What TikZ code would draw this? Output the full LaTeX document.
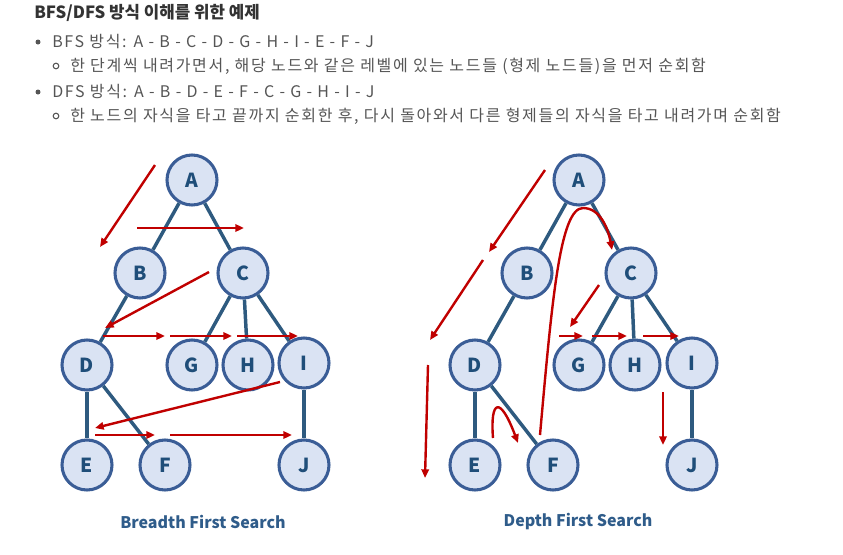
\documentclass[tikz,border=0pt]{standalone}
\usepackage{fontspec}
\setmainfont{Noto Sans CJK KR}
\newfontfamily\bodyfont[LetterSpace=10.5]{Noto Sans CJK KR}
\usetikzlibrary{arrows.meta}

\definecolor{nodefill}{HTML}{DAE3F3}
\definecolor{nodeline}{HTML}{3A5D96}
\definecolor{nodetext}{HTML}{1F4E79}
\definecolor{edgeblue}{HTML}{2E5A7F}
\definecolor{travred}{HTML}{C00000}
\definecolor{bodygray}{HTML}{555555}
\definecolor{titlegray}{HTML}{333333}
\definecolor{capblue}{HTML}{2F5C8A}

\begin{document}
\begin{tikzpicture}[x=0.75pt, y=-0.75pt, >=Stealth,
    vertex/.style={circle, draw=nodeline, line width=2.3pt, fill=nodefill, minimum size=37.5pt, inner sep=0pt, text=nodetext, font=\fontsize{14.5}{15}\selectfont\bfseries},
    tree/.style={draw=edgeblue, line width=2.6pt},
    trav/.style={draw=travred, line width=1.8pt, -{Triangle[length=6.5pt,width=5.5pt]}},
    body/.style={anchor=base west, inner sep=0pt, text=bodygray, font=\bodyfont\fontsize{12}{13}\selectfont},
    caption/.style={inner sep=0pt, text=capblue, font=\fontsize{12}{13}\selectfont\bfseries}]

    \useasboundingbox (0,0) rectangle (843,554);

    % header
    \node [anchor=base west, inner sep=0pt, text=titlegray, font=\fontsize{12.6}{13}\selectfont\bfseries] (title) at (34,18) {BFS/DFS 방식 이해를 위한 예제};
    \fill [bodygray] (38,42) circle (2.5);
    \node [body] (bfs) at (52,47) {BFS 방식: A - B - C - D - G - H - I - E - F - J};
    \draw [bodygray, line width=0.8pt] (56,66) circle (2.8);
    \node [body] (bfsnote) at (70,71) {한 단계씩 내려가면서, 해당 노드와 같은 레벨에 있는 노드들 (형제 노드들)을 먼저 순회함};
    \fill [bodygray] (38,92) circle (2.5);
    \node [body] (dfs) at (52,97) {DFS 방식: A - B - D - E - F - C - G - H - I - J};
    \draw [bodygray, line width=0.8pt] (56,116) circle (2.8);
    \node [body] (dfsnote) at (70,121) {한 노드의 자식을 타고 끝까지 순회한 후, 다시 돌아와서 다른 형제들의 자식을 타고 내려가며 순회함};

    % breadth first tree
    \node [vertex] (bA) at (192,180) {A};
    \node [vertex] (bB) at (140,273) {B};
    \node [vertex] (bC) at (243,273) {C};
    \node [vertex] (bD) at (87,365) {D};
    \node [vertex] (bG) at (192,365) {G};
    \node [vertex] (bH) at (248,365) {H};
    \node [vertex] (bI) at (304,363) {I};
    \node [vertex] (bE) at (87,465) {E};
    \node [vertex] (bF) at (165,465) {F};
    \node [vertex] (bJ) at (304,465) {J};
    \foreach \u/\v in {bA/bB, bA/bC, bB/bD, bC/bG, bC/bH, bC/bI, bD/bE, bD/bF, bI/bJ}
        \path [tree] (\u) -- (\v);

    \path [trav] (155,165) -- (100,247);
    \path [trav] (137,228) -- (244,228);
    \path [trav] (209,272) -- (105,328);
    \path [trav] (103,336) -- (165,336);
    \path [trav] (170,336) -- (232,336);
    \path [trav] (237,336) -- (298,336);
    \path [trav] (280,382) -- (95,428);
    \path [trav] (95,435) -- (155,435);
    \path [trav] (170,435) -- (292,435);

    \node [caption] (bcap) at (203,522) {Breadth First Search};

    % depth first tree
    \node [vertex] (dA) at (579,180) {A};
    \node [vertex] (dB) at (527,273) {B};
    \node [vertex] (dC) at (631,273) {C};
    \node [vertex] (dD) at (475,365) {D};
    \node [vertex] (dG) at (579,365) {G};
    \node [vertex] (dH) at (635,365) {H};
    \node [vertex] (dI) at (692,363) {I};
    \node [vertex] (dE) at (475,465) {E};
    \node [vertex] (dF) at (553,465) {F};
    \node [vertex] (dJ) at (692,465) {J};
    \foreach \u/\v in {dA/dB, dA/dC, dB/dD, dC/dG, dC/dH, dC/dI, dD/dE, dD/dF, dI/dJ}
        \path [tree] (\u) -- (\v);

    \path [trav] (545,170) -- (489,252);
    \path [trav] (483,260) -- (430,340);
    \path [trav] (428,365) -- (425,478);
    \path [trav] (493,438) .. controls (490,400) and (500,395) .. (518,443);
    \path [trav] (540,435) .. controls (552,300) and (560,208) .. (583,208) .. controls (600,208) and (608,228) .. (612,250);
    \path [trav] (599,285) -- (570,327);
    \path [trav] (559,336) -- (583,336);
    \path [trav] (592,336) -- (627,336);
    \path [trav] (643,336) -- (679,336);
    \path [trav] (663,392) -- (663,445);

    \node [caption] (dcap) at (578,522) {Depth First Search};
\end{tikzpicture}
\end{document}
